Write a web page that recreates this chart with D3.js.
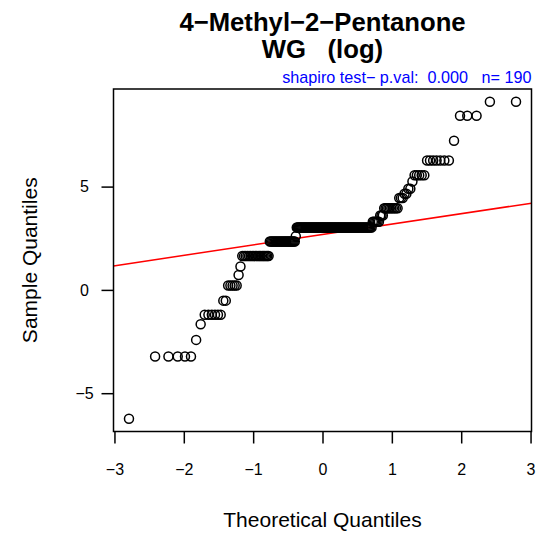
<!DOCTYPE html>
<html>
<head>
<meta charset="utf-8">
<script src="https://cdn.jsdelivr.net/npm/d3@7"></script>
<style>
  html, body { margin: 0; padding: 0; background: #fff; }
  svg { display: block; }
  text { font-family: "Liberation Sans", Arial, Helvetica, sans-serif; }
</style>
</head>
<body>
<div id="chart"></div>
<script>
// ---- data (sorted sample values, log scale) ----
const sampleValues = [
  -6.24,
  -3.22, -3.22, -3.22, -3.22, -3.22,
  -2.42,
  -1.66,
  -1.20, -1.20, -1.20, -1.20, -1.20, -1.20,
  -0.52, -0.52,
  0.21, 0.21, 0.21, 0.21, 0.21,
  0.72,
  1.13,
  1.64, 1.64, 1.64, 1.64, 1.64, 1.64, 1.64, 1.64, 1.64, 1.64,
  1.64, 1.64, 1.64, 1.64, 1.64, 1.64, 1.64, 1.64, 1.64,
  2.34, 2.34, 2.34, 2.34, 2.34, 2.34, 2.34, 2.34, 2.34, 2.34, 2.34, 2.34,
  2.34, 2.34, 2.34, 2.34, 2.34, 2.34, 2.34, 2.34, 2.34, 2.34, 2.34, 2.34,
  2.60,
  3.02, 3.02, 3.02, 3.02, 3.02, 3.02, 3.02, 3.02, 3.02, 3.02,
  3.02, 3.02, 3.02, 3.02, 3.02, 3.02, 3.02, 3.02, 3.02, 3.02,
  3.02, 3.02, 3.02, 3.02, 3.02, 3.02, 3.02, 3.02, 3.02, 3.02,
  3.02, 3.02, 3.02, 3.02, 3.02, 3.02, 3.02, 3.02, 3.02, 3.02,
  3.02, 3.02, 3.02, 3.02, 3.02, 3.02, 3.02, 3.02, 3.02, 3.02,
  3.02, 3.02, 3.02, 3.02, 3.02, 3.02, 3.02, 3.02, 3.02, 3.02,
  3.02, 3.02, 3.02, 3.02, 3.02, 3.02, 3.02, 3.02, 3.02, 3.02,
  3.02, 3.02, 3.02, 3.02, 3.02, 3.02, 3.02, 3.02,
  3.30, 3.30, 3.30, 3.30, 3.30, 3.30,
  3.60, 3.60, 3.60,
  3.95, 3.95, 3.95, 3.95, 3.95, 3.95, 3.95, 3.95, 3.95, 3.95,
  4.45, 4.45, 4.45,
  4.65, 4.65,
  4.90, 4.90,
  5.25,
  5.55, 5.55, 5.55, 5.55, 5.55,
  6.26, 6.26, 6.26, 6.26, 6.26, 6.26, 6.26,
  7.22,
  8.43, 8.43, 8.43,
  9.11, 9.11
];
const xTickValues = [-3, -2, -1, 0, 1, 2, 3];
const yTickValues = [-5, 0, 5];
const titleLines = ["4\u2212Methyl\u22122\u2212Pentanone", "WG   (log)"];
const subtitleText = "shapiro test\u2212 p.val:  0.000   n= 190";
const xLabel = "Theoretical Quantiles";
const yLabel = "Sample Quantiles";

// ---- inverse standard normal CDF (Acklam) ----
function qnorm(p) {
  const a = [-3.969683028665376e+01, 2.209460984245205e+02, -2.759285104469687e+02,
             1.383577518672690e+02, -3.066479806614716e+01, 2.506628277459239e+00];
  const b = [-5.447609879822406e+01, 1.615858368580409e+02, -1.556989798598866e+02,
             6.680131188771972e+01, -1.328068155288572e+01];
  const c = [-7.784894002430293e-03, -3.223964580411365e-01, -2.400758277161838e+00,
             -2.549732539343734e+00, 4.374664141464968e+00, 2.938163982698783e+00];
  const d = [7.784695709041462e-03, 3.224671290700398e-01, 2.445134137142996e+00,
             3.754408661907416e+00];
  const pl = 0.02425, ph = 1 - pl;
  let q, r;
  if (p < pl) {
    q = Math.sqrt(-2 * Math.log(p));
    return (((((c[0]*q+c[1])*q+c[2])*q+c[3])*q+c[4])*q+c[5]) / ((((d[0]*q+d[1])*q+d[2])*q+d[3])*q+1);
  } else if (p <= ph) {
    q = p - 0.5; r = q * q;
    return (((((a[0]*r+a[1])*r+a[2])*r+a[3])*r+a[4])*r+a[5])*q / (((((b[0]*r+b[1])*r+b[2])*r+b[3])*r+b[4])*r+1);
  } else {
    q = Math.sqrt(-2 * Math.log(1 - p));
    return -(((((c[0]*q+c[1])*q+c[2])*q+c[3])*q+c[4])*q+c[5]) / ((((d[0]*q+d[1])*q+d[2])*q+d[3])*q+1);
  }
}

(function () {
const n = sampleValues.length;
const sorted = sampleValues.slice().sort(d3.ascending);
const points = sorted.map((v, i) => ({ x: qnorm((i + 1 - 0.5) / n), y: v }));

// ---- layout ----
const W = 537, H = 533;
const pLeft = 113.5, pRight = 531.5, pTop = 89, pBottom = 431.5;

function padExtent(ext) {
  const pad = (ext[1] - ext[0]) * 0.04;
  return [ext[0] - pad, ext[1] + pad];
}
const x = d3.scaleLinear().domain(padExtent(d3.extent(points, d => d.x))).range([pLeft, pRight]);
const y = d3.scaleLinear().domain(padExtent(d3.extent(points, d => d.y))).range([pBottom, pTop]);

const svg = d3.select("#chart").append("svg").attr("width", W).attr("height", H);
svg.append("rect").attr("width", W).attr("height", H).attr("fill", "#fff");

svg.append("clipPath").attr("id", "plotclip")
  .append("rect").attr("x", pLeft).attr("y", pTop).attr("width", pRight - pLeft).attr("height", pBottom - pTop);

// ---- qq line through quartiles ----
const q1 = d3.quantile(sorted, 0.25), q3 = d3.quantile(sorted, 0.75);
const z1 = qnorm(0.25), z3 = qnorm(0.75);
const slope = (q3 - q1) / (z3 - z1);
const intercept = q1 - slope * z1;
const xd = x.domain();
svg.append("line")
  .attr("clip-path", "url(#plotclip)")
  .attr("x1", x(xd[0])).attr("y1", y(intercept + slope * xd[0]))
  .attr("x2", x(xd[1])).attr("y2", y(intercept + slope * xd[1]))
  .attr("stroke", "#ff0000").attr("stroke-width", 1.5);

// ---- points ----
svg.append("g").selectAll("circle").data(points).join("circle")
  .attr("cx", d => x(d.x)).attr("cy", d => y(d.y)).attr("r", 4.5)
  .attr("fill", "none").attr("stroke", "#000").attr("stroke-width", 1.5);

// ---- box ----
svg.append("rect").attr("x", pLeft).attr("y", pTop)
  .attr("width", pRight - pLeft).attr("height", pBottom - pTop)
  .attr("fill", "none").attr("stroke", "#000").attr("stroke-width", 1.5);

// ---- axes ----
const minusFmt = v => (v < 0 ? "\u2212" + Math.abs(v) : String(v));
const xAxis = d3.axisBottom(x).tickValues(xTickValues).tickSize(12).tickPadding(20).tickFormat(minusFmt);
const gx = svg.append("g").attr("transform", `translate(0,${pBottom})`).call(xAxis);
gx.select(".domain").remove();
gx.selectAll(".tick line").attr("stroke", "#000").attr("stroke-width", 1.5);
gx.selectAll(".tick text").attr("font-size", 16).attr("fill", "#000")
  .style("font-family", '"Liberation Sans", Arial, sans-serif');

const yAxis = d3.axisLeft(y).tickValues(yTickValues).tickSize(12).tickPadding(11).tickFormat(minusFmt);
const gy = svg.append("g").attr("transform", `translate(${pLeft},0)`).call(yAxis);
gy.select(".domain").remove();
gy.selectAll(".tick line").attr("stroke", "#000").attr("stroke-width", 1.5);
gy.selectAll(".tick text").attr("font-size", 16).attr("fill", "#000")
  .attr("text-anchor", "middle").attr("x", -29)
  .style("font-family", '"Liberation Sans", Arial, sans-serif');

// ---- titles ----
const cx = (pLeft + pRight) / 2;
svg.append("text").attr("x", cx).attr("y", 31).attr("text-anchor", "middle")
  .attr("font-size", 25.7).attr("font-weight", "bold").text(titleLines[0]);
svg.append("text").attr("x", cx).attr("y", 58).attr("text-anchor", "middle")
  .attr("font-size", 25.7).attr("font-weight", "bold").style("white-space", "pre").text(titleLines[1]);
svg.append("text").attr("x", pRight).attr("y", 83).attr("text-anchor", "end")
  .attr("font-size", 16.2).attr("fill", "#0000ff").style("white-space", "pre").text(subtitleText);

svg.append("text").attr("x", cx).attr("y", 527).attr("text-anchor", "middle")
  .attr("font-size", 21).attr("fill", "#000").text(xLabel);
svg.append("text").attr("transform", `translate(37,${(pTop + pBottom) / 2}) rotate(-90)`)
  .attr("text-anchor", "middle").attr("font-size", 21).attr("fill", "#000").text(yLabel);
})();
</script>
</body>
</html>
